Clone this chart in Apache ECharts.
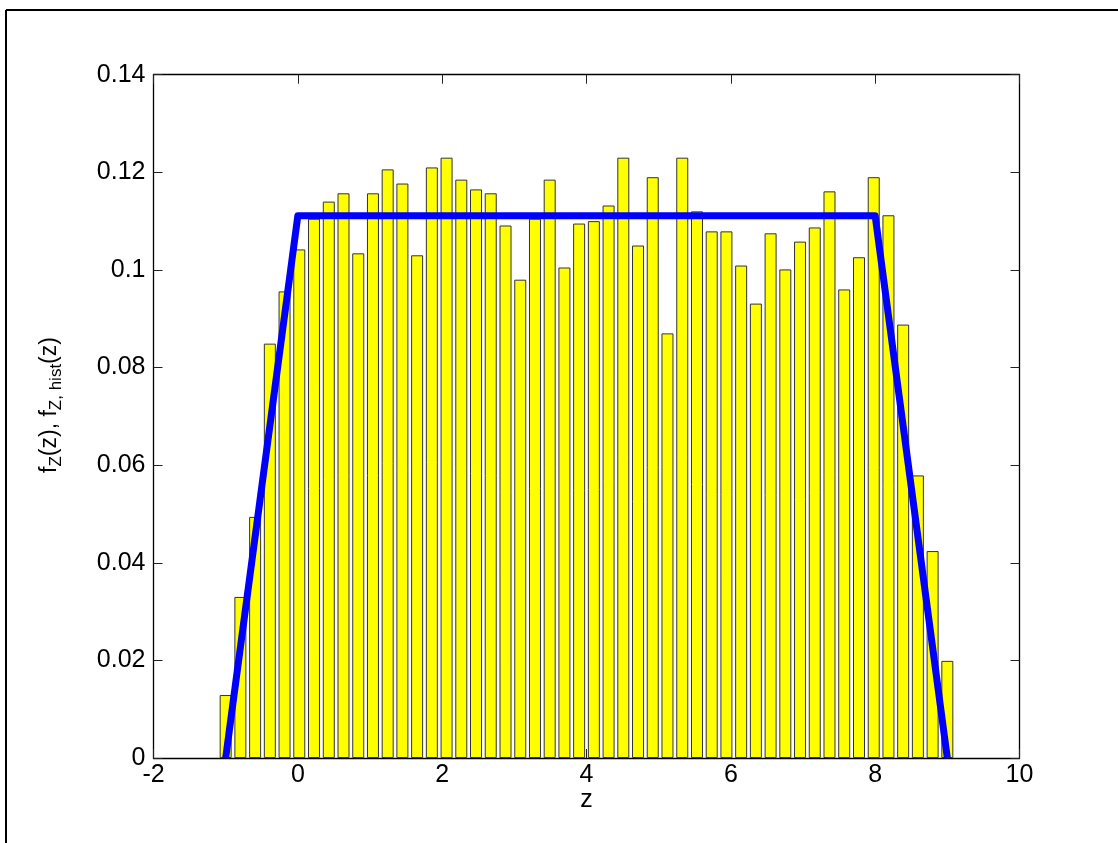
<!DOCTYPE html>
<html>
<head>
<meta charset="utf-8">
<script src="https://cdn.jsdelivr.net/npm/echarts@6/dist/echarts.min.js"></script>
<style>
  html, body { margin: 0; padding: 0; background: #fff; }
  #chart { width: 1118px; height: 843px; }
</style>
</head>
<body>
<div id="chart"></div>
<script>
// Histogram bin centres (50 bins spanning -1 … 9)
const binCenters = [
  -1.000, -0.796, -0.592, -0.388, -0.184, 0.020, 0.224, 0.429, 0.633, 0.837,
   1.041,  1.245,  1.449,  1.653,  1.857, 2.061, 2.265, 2.469, 2.673, 2.878,
   3.082,  3.286,  3.490,  3.694,  3.898, 4.102, 4.306, 4.510, 4.714, 4.918,
   5.122,  5.327,  5.531,  5.735,  5.939, 6.143, 6.347, 6.551, 6.755, 6.959,
   7.163,  7.367,  7.571,  7.776,  7.980, 8.184, 8.388, 8.592, 8.796, 9.000
];

// Normalised histogram heights f_Z,hist(z)
const histValues = [
  0.0129, 0.0330, 0.0494, 0.0849, 0.0956, 0.1042, 0.1105, 0.1140, 0.1157, 0.1034,
  0.1157, 0.1206, 0.1177, 0.1030, 0.1210, 0.1230, 0.1185, 0.1165, 0.1157, 0.1091,
  0.0980, 0.1105, 0.1185, 0.1005, 0.1095, 0.1100, 0.1132, 0.1230, 0.1050, 0.1190,
  0.0870, 0.1230, 0.1120, 0.1079, 0.1079, 0.1009, 0.0931, 0.1075, 0.1001, 0.1058,
  0.1087, 0.1161, 0.0960, 0.1026, 0.1190, 0.1112, 0.0888, 0.0579, 0.0424, 0.0199
];

// Theoretical trapezoidal density f_Z(z): breakpoints and values
const pdfZ = [-1, 0, 8, 9];
const pdfValues = [0, 1 / 9, 1 / 9, 0];

// Axis ticks
const xTicks = { min: -2, max: 10, step: 2 };
const yTicks = { min: 0, max: 0.14, step: 0.02 };

const FONT = "'Liberation Sans', Arial, Helvetica, sans-serif";
const chart = echarts.init(document.getElementById('chart'), null, { renderer: 'canvas' });

const tickStyle = { show: true, inside: true, length: 9, lineStyle: { color: '#222', width: 1 } };
const lineStyleAxis = { show: true, onZero: false, lineStyle: { color: '#000', width: 1.3 } };

chart.setOption({
  animation: false,
  backgroundColor: '#fff',
  grid: { left: 153.5, right: 98.5, top: 74.7, bottom: 85, containLabel: false },
  xAxis: [
    {
      type: 'value', position: 'bottom',
      min: xTicks.min, max: xTicks.max, interval: xTicks.step,
      axisLine: lineStyleAxis, axisTick: tickStyle, splitLine: { show: false },
      axisLabel: { color: '#000', fontSize: 25, fontFamily: FONT, margin: 5 },
      name: 'z', nameLocation: 'middle', nameGap: 30, nameMoveOverlap: false,
      nameTextStyle: { color: '#000', fontSize: 25, fontFamily: FONT }
    },
    {
      type: 'value', position: 'top',
      min: xTicks.min, max: xTicks.max, interval: xTicks.step,
      axisLine: lineStyleAxis, axisTick: tickStyle, splitLine: { show: false },
      axisLabel: { show: false }
    }
  ],
  yAxis: [
    {
      type: 'value', position: 'left',
      min: yTicks.min, max: yTicks.max, interval: yTicks.step,
      axisLine: lineStyleAxis, axisTick: tickStyle, splitLine: { show: false },
      axisLabel: {
        color: '#000', fontSize: 25, fontFamily: FONT, margin: 8,
        formatter: v => String(+v.toFixed(2))
      }
    },
    {
      type: 'value', position: 'right',
      min: yTicks.min, max: yTicks.max, interval: yTicks.step,
      axisLine: lineStyleAxis, axisTick: tickStyle, splitLine: { show: false },
      axisLabel: { show: false }
    }
  ],
  series: [
    {
      type: 'bar',
      xAxisIndex: 0, yAxisIndex: 0,
      barWidth: 12,
      data: binCenters.map((z, i) => [z, histValues[i]]),
      itemStyle: { color: '#ffff00', borderColor: '#333', borderWidth: 1 },
      z: 2
    },
    {
      type: 'line',
      xAxisIndex: 0, yAxisIndex: 0,
      data: pdfZ.map((z, i) => [z, pdfValues[i]]),
      showSymbol: false, symbol: 'none',
      lineStyle: { color: '#0000ff', width: 7, join: 'round', cap: 'butt' },
      z: 3
    }
  ],
  graphic: [
    // outer frame edges
    { type: 'line', shape: { x1: 6, y1: 10, x2: 1118, y2: 10 }, style: { stroke: '#000', lineWidth: 2 } },
    { type: 'line', shape: { x1: 6, y1: 10, x2: 6, y2: 843 }, style: { stroke: '#000', lineWidth: 2 } },
    // y-axis label with subscripts
    {
      type: 'text', x: 50, y: 405, rotation: Math.PI / 2,
      style: {
        text: '{m|f}{s|Z}{m|(z), f}{s|Z, hist}{m|(z)}',
        align: 'center', verticalAlign: 'middle',
        fill: '#000',
        rich: {
          m: { fontSize: 23, fontFamily: FONT, lineHeight: 30, verticalAlign: 'middle', fill: '#000' },
          s: { fontSize: 17, fontFamily: FONT, lineHeight: 17, verticalAlign: 'bottom', fill: '#000' }
        }
      }
    }
  ]
});
</script>
</body>
</html>
